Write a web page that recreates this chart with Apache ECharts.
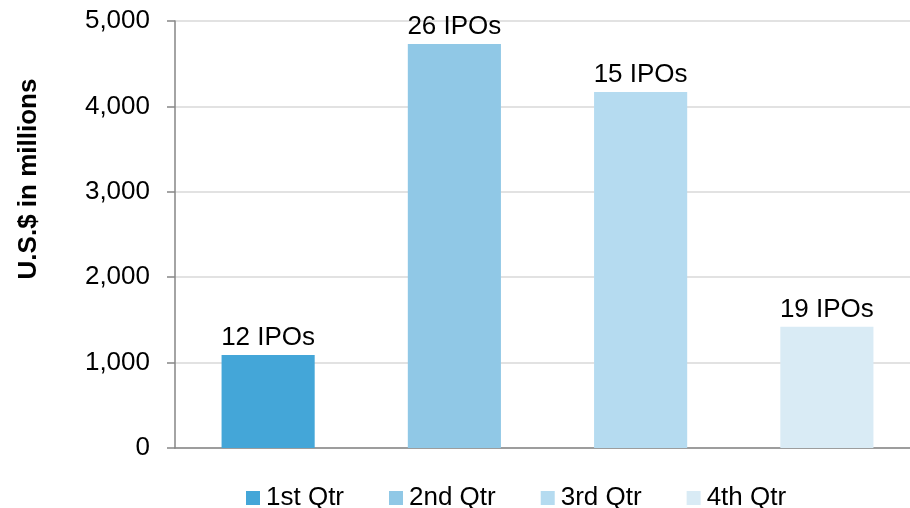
<!DOCTYPE html>
<html>
<head>
<meta charset="utf-8">
<script src="https://cdn.jsdelivr.net/npm/echarts@6/dist/echarts.min.js"></script>
<style>
  html, body { margin: 0; padding: 0; background: #fff; }
  #chart { width: 910px; height: 508px; }
</style>
</head>
<body>
<div id="chart"></div>
<script>
// quarters, amount raised (US$ millions) and IPO count labels
var quarters = ['1st Qtr', '2nd Qtr', '3rd Qtr', '4th Qtr'];
var amounts = [1090, 4730, 4170, 1420];
var ipoLabels = ['12 IPOs', '26 IPOs', '15 IPOs', '19 IPOs'];
var yTicks = [0, 1000, 2000, 3000, 4000, 5000];
var colors = ['#44a6d8', '#90c8e6', '#b5dbf0', '#d9ebf5'];

var FONT = 'Liberation Sans, Arial, sans-serif';

// one series per quarter so the legend shows each one
var seriesList = [];
for (var i = 0; i < quarters.length; i++) {
  var d = [];
  for (var j = 0; j < quarters.length; j++) {
    d.push(i == j ? amounts[j] : null);
  }
  seriesList.push({
    name: quarters[i],
    type: 'bar',
    stack: 'q',
    barWidth: '50%',
    data: d,
    itemStyle: { color: colors[i] },
    label: {
      show: true,
      position: 'top',
      distance: 4,
      color: '#000',
      fontFamily: FONT,
      fontSize: 26,
      formatter: (function(txt) {
        return function() { return txt; };
      })(ipoLabels[i])
    }
  });
}

var option = {
  animation: false,
  backgroundColor: '#fff',
  // plot area runs a little past the right edge, like the original
  grid: { left: 175, width: 745, top: 21, bottom: 60, outerBoundsMode: 'none', containLabel: false },
  legend: {
    left: 246,
    top: 485,
    padding: 0,
    itemWidth: 14,
    itemHeight: 14,
    itemGap: 45,
    icon: 'rect',
    textStyle: { fontFamily: FONT, fontSize: 26, color: '#000', padding: [0, 0, 0, 1] },
    data: quarters
  },
  graphic: [{
    type: 'text',
    x: 29,
    y: 179,
    rotation: Math.PI / 2,
    style: {
      text: 'U.S.$ in millions',
      textAlign: 'center',
      textVerticalAlign: 'middle',
      font: 'bold 26px Liberation Sans, Arial, sans-serif',
      fill: '#000'
    }
  }],
  xAxis: {
    type: 'category',
    data: quarters,
    axisLabel: { show: false },
    axisTick: { show: false },
    axisLine: { lineStyle: { color: '#868686', width: 1.5 } }
  },
  yAxis: {
    type: 'value',
    min: yTicks[0],
    max: yTicks[yTicks.length - 1],
    interval: 1000,
    axisLine: { show: true, lineStyle: { color: '#868686', width: 1.5 } },
    axisTick: { show: true, length: 8, lineStyle: { color: '#868686', width: 1.5 } },
    axisLabel: {
      margin: 25,
      color: '#000',
      fontFamily: FONT,
      fontSize: 26,
      formatter: function(v) { return v.toLocaleString('en-US'); }
    },
    splitLine: { lineStyle: { color: '#d9d9d9', width: 1.5 } }
  },
  series: seriesList
};

var myChart = echarts.init(document.getElementById('chart'));
myChart.setOption(option);
window.onresize = myChart.resize;
</script>
</body>
</html>
